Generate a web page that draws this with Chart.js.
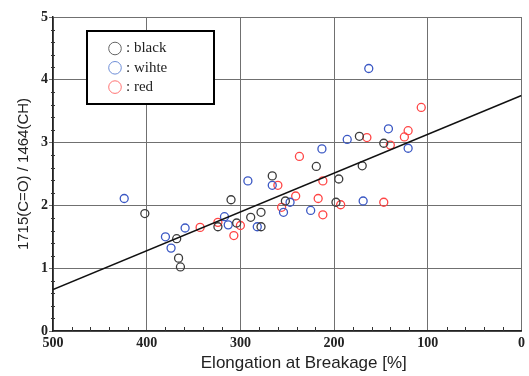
<!DOCTYPE html>
<html>
<head>
<meta charset="utf-8">
<script src="https://cdn.jsdelivr.net/npm/chart.js@4/dist/chart.umd.min.js"></script>
<style>
  body { margin: 0; background: #fff; }
  canvas { display: block; }
</style>
</head>
<body>
<canvas id="myChart" width="529" height="376"></canvas>
<script>
"use strict";

// values
const blackX = [402, 368, 366, 364, 324, 310, 304, 289, 278, 278, 266, 252, 219, 198, 195, 173, 170, 147];
const blackY = [1.87, 1.47, 1.16, 1.02, 1.66, 2.09, 1.72, 1.81, 1.89, 1.66, 2.47, 2.07, 2.62, 2.05, 2.42, 3.10, 2.63, 2.99];

const blueX = [424, 380, 374, 359, 317, 313, 292, 282, 266, 254, 247, 225, 213, 186, 169, 163, 142, 121];
const blueY = [2.11, 1.50, 1.32, 1.64, 1.82, 1.69, 2.39, 1.66, 2.32, 1.89, 2.05, 1.92, 2.90, 3.05, 2.07, 4.18, 3.22, 2.91];

const redX = [343, 324, 307, 300, 260, 256, 241, 237, 217, 212, 212, 193, 165, 147, 140, 125, 121, 107];
const redY = [1.65, 1.73, 1.52, 1.68, 2.32, 1.97, 2.15, 2.78, 2.11, 2.39, 1.85, 2.01, 3.08, 2.05, 2.96, 3.09, 3.19, 3.56];

// fitted line ends
const fitX = [500, 0];
const fitY = [0.66, 3.75];

const legendNames = [": black", ": wihte", ": red"];
const legendColors = ["#666666", "#6f8fd8", "#ff7474"];

const xTitle = "Elongation at Breakage [%]";
const yTitle = "1715(C=O) / 1464(CH)";

const toPoints = (xs, ys) => xs.map((x, i) => ({ x: x, y: ys[i] }));

function pointSet(label, color, xs, ys) {
  return {
    label: label,
    data: toPoints(xs, ys),
    showLine: false,
    pointRadius: 4,
    pointHoverRadius: 4,
    pointBorderWidth: 1.3,
    pointBorderColor: color,
    pointBackgroundColor: "rgba(0,0,0,0)",
    borderColor: color,
  };
}

// small ticks between the grid lines
const minorTicks = {
  id: "minorTicks",
  afterDraw(chart) {
    const { ctx, chartArea, scales } = chart;
    ctx.save();
    ctx.strokeStyle = "#333";
    ctx.lineWidth = 1;
    for (let v = 20; v < 500; v += 20) {
      if (v % 100 === 0) continue;
      const px = Math.round(scales.x.getPixelForValue(v)) + 0.5;
      ctx.beginPath();
      ctx.moveTo(px, chartArea.bottom);
      ctx.lineTo(px, chartArea.bottom - 4);
      ctx.stroke();
    }
    for (let i = 1; i < 25; i++) {
      if (i % 5 === 0) continue;
      const py = Math.round(scales.y.getPixelForValue(i / 5)) + 0.5;
      ctx.beginPath();
      ctx.moveTo(chartArea.left - 2, py);
      ctx.lineTo(chartArea.left + 2, py);
      ctx.stroke();
    }
    ctx.restore();
  }
};

// boxed legend in the upper left
const boxLegend = {
  id: "boxLegend",
  afterDraw(chart) {
    const ctx = chart.ctx;
    ctx.save();
    ctx.fillStyle = "#fff";
    ctx.fillRect(87, 31, 127, 73);
    ctx.strokeStyle = "#000";
    ctx.lineWidth = 2;
    ctx.strokeRect(87, 31, 127, 73);
    ctx.font = "15px 'Liberation Serif'";
    ctx.textBaseline = "middle";
    legendNames.forEach((name, i) => {
      const cy = 48.5 + i * 19.3;
      ctx.beginPath();
      ctx.lineWidth = 1;
      ctx.strokeStyle = legendColors[i];
      ctx.arc(115, cy, 6.3, 0, Math.PI * 2);
      ctx.stroke();
      ctx.fillStyle = "#222";
      ctx.fillText(name, 126, cy);
    });
    ctx.restore();
  }
};

const config = {
  type: "scatter",
  data: {
    datasets: [
      {
        label: "fit",
        type: "line",
        data: toPoints(fitX, fitY),
        borderColor: "#111",
        borderWidth: 1.4,
        pointRadius: 0,
        fill: false,
      },
      pointSet("black", "#3c3c3c", blackX, blackY),
      pointSet("wihte", "#3b58c4", blueX, blueY),
      pointSet("red", "#ff4545", redX, redY),
    ],
  },
  options: {
    responsive: false,
    animation: false,
    layout: { padding: { top: 17, right: 6, left: 0, bottom: 0 } },
    plugins: {
      legend: { display: false },
      tooltip: { enabled: false },
    },
    scales: {
      x: {
        type: "linear",
        reverse: true,
        min: 0,
        max: 500,
        afterFit: (scale) => { scale.height = 45; },
        ticks: {
          stepSize: 100,
          padding: 4,
          color: "#222",
          font: { family: "'Liberation Serif'", size: 14, weight: "bold" },
        },
        grid: { color: "#707070", lineWidth: 1, tickLength: 0 },
        border: { color: "#222", width: 1.5 },
        title: {
          display: true,
          text: "       " + xTitle,
          color: "#222",
          padding: { top: 0, bottom: 2 },
          font: { family: "'Liberation Sans'", size: 17 },
        },
      },
      y: {
        min: 0,
        max: 5,
        afterFit: (scale) => { scale.width = 53; },
        ticks: {
          stepSize: 1,
          padding: 1,
          color: "#222",
          font: { family: "'Liberation Serif'", size: 14, weight: "bold" },
        },
        grid: { color: "#707070", lineWidth: 1, tickLength: 4 },
        border: { color: "#222", width: 1.5 },
        title: {
          display: true,
          text: yTitle,
          color: "#222",
          padding: { top: 15, bottom: 0 },
          font: { family: "'Liberation Sans'", size: 15 },
        },
      },
    },
  },
  plugins: [minorTicks, boxLegend],
};

new Chart(document.getElementById("myChart"), config);
</script>
</body>
</html>
